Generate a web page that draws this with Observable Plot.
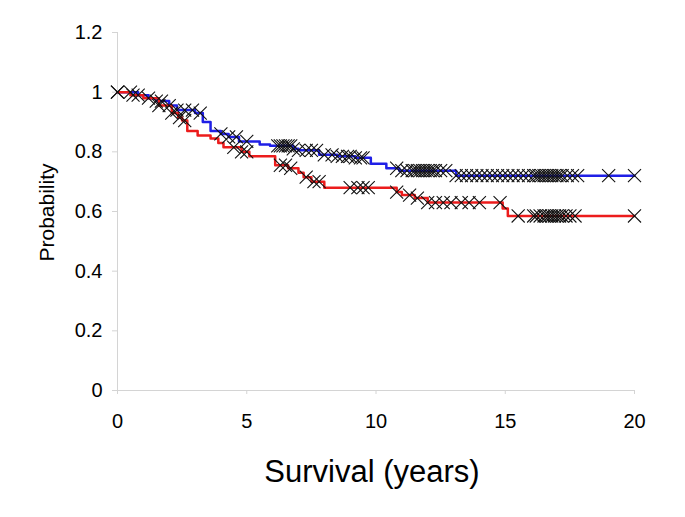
<!DOCTYPE html>
<html>
<head>
<meta charset="utf-8">
<script src="https://cdn.jsdelivr.net/npm/d3@7"></script>
<script src="https://cdn.jsdelivr.net/npm/@observablehq/plot@0.6"></script>
<style>
  html, body { margin: 0; padding: 0; background: #fff; }
  #chart { width: 685px; height: 517px; }
</style>
</head>
<body>
<div id="chart"></div>
<script>
// Kaplan-Meier step curves (time in years, survival probability)
const blueTimes = [0, 0.8, 1.2, 1.5, 2.0, 2.3, 3.0, 3.3, 3.6, 4.0, 4.3, 4.7, 5.5, 5.9, 6.8, 7.0, 7.8, 8.5, 9.2, 9.8, 10.4, 10.9, 13.1, 20];
const blueSurv  = [1.0, 0.99, 0.98, 0.97, 0.955, 0.94, 0.93, 0.90, 0.87, 0.86, 0.85, 0.835, 0.825, 0.82, 0.81, 0.805, 0.79, 0.785, 0.78, 0.76, 0.745, 0.737, 0.72, 0.72];

const redTimes = [0, 0.5, 1.0, 1.6, 2.1, 2.35, 2.5, 2.7, 3.1, 3.6, 3.9, 4.1, 4.8, 5.1, 6.1, 6.6, 7.0, 7.2, 7.5, 8.0, 10.8, 11.0, 11.5, 12.0, 14.9, 15.1, 20];
const redSurv  = [1.0, 0.99, 0.98, 0.955, 0.93, 0.915, 0.905, 0.87, 0.855, 0.845, 0.83, 0.815, 0.80, 0.785, 0.755, 0.745, 0.73, 0.715, 0.70, 0.68, 0.665, 0.655, 0.645, 0.63, 0.61, 0.585, 0.585];

// Censoring marks (times)
const blueCensor = [0, 0.5, 0.8, 1.2, 1.5, 1.7, 2.0, 2.3, 2.6, 2.9, 3.2, 4.0, 4.3, 4.6, 5.0, 6.2, 6.3, 6.4, 6.5, 6.6, 6.7, 6.8, 7.0, 7.3, 7.5, 7.7, 8.0, 8.3, 8.5, 8.7, 8.9, 9.0, 9.2, 9.4, 9.5, 10.8, 11.0, 11.2, 11.4, 11.5, 11.6, 11.7, 11.8, 11.9, 12.0, 12.1, 12.2, 12.3, 12.5, 12.7, 13.1, 13.3, 13.5, 13.7, 13.9, 14.1, 14.3, 14.5, 14.7, 14.9, 15.1, 15.3, 15.5, 15.7, 15.9, 16.1, 16.2, 16.3, 16.4, 16.5, 16.6, 16.7, 16.8, 16.9, 17.0, 17.1, 17.2, 17.4, 17.6, 17.8, 19.0, 20.0];
const redCensor = [0, 0.6, 1.6, 2.1, 2.4, 2.6, 4.5, 4.8, 5.0, 6.3, 6.5, 6.7, 7.3, 7.6, 7.8, 9.0, 9.3, 9.5, 9.7, 10.8, 11.3, 11.6, 12.0, 12.3, 12.6, 12.9, 13.3, 13.6, 14.0, 14.8, 15.5, 16.1, 16.2, 16.35, 16.5, 16.6, 16.7, 16.8, 16.9, 17.0, 17.1, 17.2, 17.35, 17.5, 17.7, 20.0];

const xTicks = [0, 5, 10, 15, 20];
const yTicks = [0, 0.2, 0.4, 0.6, 0.8, 1.0, 1.2];

const curve = (times, surv) => times.map((t, i) => ({t, s: surv[i]}));
const stepAt = (times, surv) => t => surv[Math.max(0, d3.bisectRight(times, t) - 1)];
const blueAt = stepAt(blueTimes, blueSurv);
const redAt = stepAt(redTimes, redSurv);
const censored = [
  ...blueCensor.map(t => ({t, s: blueAt(t)})),
  ...redCensor.map(t => ({t, s: redAt(t)}))
];

const chart = Plot.plot({
  width: 685,
  height: 517,
  marginLeft: 117,
  marginRight: 51,
  marginTop: 32,
  marginBottom: 127,
  style: {fontFamily: "'Liberation Sans', Arial, sans-serif", background: "#fff", color: "#000"},
  x: {domain: [0, 20]},
  y: {domain: [0, 1.2]},
  marks: [
    Plot.ruleX([0], {stroke: "#d4d4d4"}),
    Plot.ruleY([0], {stroke: "#d4d4d4"}),
    Plot.axisY({ticks: yTicks, tickFormat: d => String(+d.toFixed(1)), tickSize: 5, tickPadding: 10, fontSize: 20, stroke: "#d4d4d4", fill: "#000", label: null}),
    Plot.axisX({ticks: xTicks, tickFormat: d => String(d), tickSize: 4, tickPadding: 19, fontSize: 20, stroke: "#d4d4d4", fill: "#000", label: null}),
    Plot.text(["Probability"], {frameAnchor: "left", textAnchor: "middle", rotate: -90, dx: -70, dy: 1, fontSize: 21, fill: "#000"}),
    Plot.text(["Survival (years)"], {frameAnchor: "bottom", textAnchor: "middle", dx: -4, dy: 91, fontSize: 31, fill: "#000"}),
    Plot.line(curve(blueTimes, blueSurv), {x: "t", y: "s", curve: "step-after", stroke: "#1f1fe6", strokeWidth: 2.5}),
    Plot.line(curve(redTimes, redSurv), {x: "t", y: "s", curve: "step-after", stroke: "#ec1c1c", strokeWidth: 2.5}),
    Plot.dot(censored, {x: "t", y: "s", symbol: "times", r: 6, stroke: "#111", strokeWidth: 1.1})
  ]
});
document.getElementById("chart").appendChild(chart);
</script>
</body>
</html>
